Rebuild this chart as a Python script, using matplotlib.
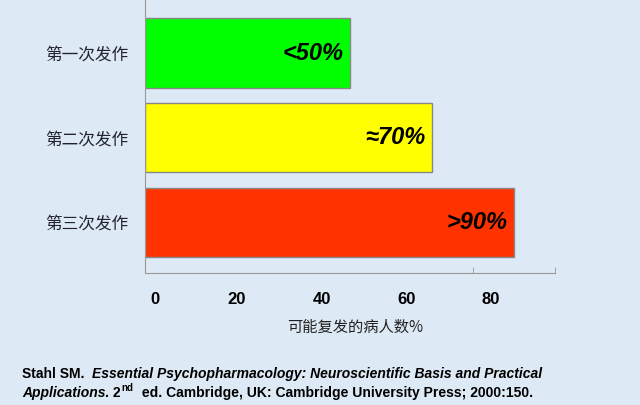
import matplotlib
matplotlib.use("Agg")
import matplotlib.pyplot as plt

categories = ["第一次发作", "第二次发作", "第三次发作"]
values = [50, 70, 90]
bar_labels = ["<50%", "≈70%", ">90%"]
colors = ["#00ff00", "#ffff00", "#ff3300"]
tick_labels = ["0", "20", "40", "60", "80", "100"]
tick_label_pos = [2.4, 22.4, 43.2, 63.9, 84.4, 104.9]
xlabel = "可能复发的病人数%"

fig = plt.figure(figsize=(6.4, 4.05), dpi=100)
fig.patch.set_facecolor("#dde9f4")
ax = fig.add_axes([145/640, 1-273/405, 410/640, 273/405])
ax.set_facecolor("none")
y = range(len(categories))
ax.barh(list(y), values, height=0.82, color=colors, edgecolor="#888888", linewidth=1)
for i, (v, t) in enumerate(zip(values, bar_labels)):
    ax.text(v - 1.5, i, t, ha="right", va="center", fontsize=17, fontweight="bold",
            fontstyle="italic", family=["Liberation Sans", "DejaVu Sans"], color="black")
ax.set_yticks(list(y))
ax.set_yticklabels(categories, family=["Noto Sans CJK SC"], fontsize=12, color="#222233")
ax.tick_params(axis="y", length=0, pad=12)
ax.set_xticks(tick_label_pos)
ax.set_xticklabels(tick_labels, fontsize=12, fontweight="bold", family=["Liberation Sans"])
ax.tick_params(axis="x", length=0, pad=14)
ax.set_xticks([0, 80, 100], minor=True)
ax.tick_params(axis="x", which="minor", length=4, direction="in", color="#999999")
ax.set_xlim(0, 100)
ax.set_ylim(2.60, -0.627)
for s in ["top", "right"]:
    ax.spines[s].set_visible(False)
for s in ["left", "bottom"]:
    ax.spines[s].set_color("#999999")
fig.text(355/640, 1-327/405, xlabel, ha="center", va="center", fontsize=11,
         family=["Noto Sans CJK SC"], color="#222222")

kw = dict(fontsize=10, family=["Liberation Sans"], color="black", va="bottom",
          fontweight="bold", annotation_clip=False)
t1 = ax.annotate("Stahl SM.  ", xy=(22/640, 1-381/405), xycoords="figure fraction", **kw)
ax.annotate("Essential Psychopharmacology: Neuroscientific Basis and Practical",
            xy=(1, 0), xycoords=t1, fontstyle="italic", **kw)
b1 = ax.annotate("Applications.", xy=(22/640, 1-400/405), xycoords="figure fraction",
                 fontstyle="italic", **kw)
b2 = ax.annotate(" 2", xy=(1, 0), xycoords=b1, **kw)
b3 = ax.annotate("nd", xy=(1, 0), xycoords=b2, xytext=(0, 5), textcoords="offset points",
                 fontsize=7, family=["Liberation Sans"], va="bottom", fontweight="bold",
                 annotation_clip=False)
ax.annotate(" ed. Cambridge, UK: Cambridge University Press; 2000:150.",
            xy=(1, 0), xycoords=b2, xytext=(12, 0), textcoords="offset points", **kw)
fig.savefig("out.png", dpi=100, facecolor=fig.get_facecolor())
